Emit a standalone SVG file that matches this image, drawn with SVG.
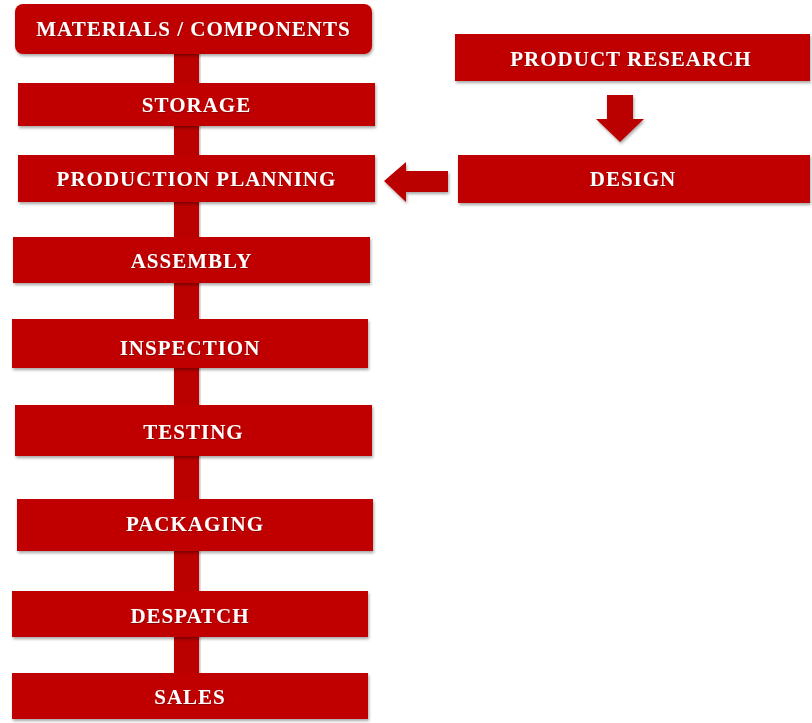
<svg xmlns="http://www.w3.org/2000/svg" width="812" height="723" viewBox="0 0 812 723">
<defs>
<filter id="sh" x="-5%" y="-20%" width="110%" height="150%">
<feDropShadow dx="1" dy="2" stdDeviation="1.5" flood-color="#000" flood-opacity="0.35"/>
</filter>
<filter id="tsh" x="-5%" y="-30%" width="110%" height="160%">
<feDropShadow dx="0.5" dy="0.8" stdDeviation="0.5" flood-color="#000" flood-opacity="0.35"/>
</filter>
</defs>
<style>
.box{fill:#c00000;filter:url(#sh)}
.lbl{fill:#ffffff;font-family:"Liberation Serif","Times New Roman",serif;font-weight:bold;font-size:21px;letter-spacing:1px;text-anchor:middle;filter:url(#tsh)}
.conn{fill:#bb0000;filter:url(#sh)}
</style>
<rect width="812" height="723" fill="#ffffff"/>
<g id="connectors">
<rect class="conn" x="174" y="50" width="25" height="625"/>
<polygon class="conn" points="607,95 633,95 633,119 644,119 620,142 596,119 607,119"/>
<polygon class="conn" points="448,171 448,192 406,192 406,202 384,181 406,162 406,171"/>
</g>
<g id="materials"><rect class="box" x="15" y="4" width="357" height="50" rx="8"/><text class="lbl" x="193.5" y="36">MATERIALS / COMPONENTS</text></g>
<g id="storage"><rect class="box" x="18" y="83" width="357" height="43"/><text class="lbl" x="196.5" y="112">STORAGE</text></g>
<g id="production-planning"><rect class="box" x="18" y="155" width="357" height="47"/><text class="lbl" x="196.5" y="186">PRODUCTION PLANNING</text></g>
<g id="assembly"><rect class="box" x="13" y="237" width="357" height="46"/><text class="lbl" x="191.5" y="268">ASSEMBLY</text></g>
<g id="inspection"><rect class="box" x="12" y="319" width="356" height="49"/><text class="lbl" x="190" y="355">INSPECTION</text></g>
<g id="testing"><rect class="box" x="15" y="405" width="357" height="51"/><text class="lbl" x="193.5" y="439">TESTING</text></g>
<g id="packaging"><rect class="box" x="17" y="499" width="356" height="52"/><text class="lbl" x="195" y="531">PACKAGING</text></g>
<g id="despatch"><rect class="box" x="12" y="591" width="356" height="46"/><text class="lbl" x="190" y="623">DESPATCH</text></g>
<g id="sales"><rect class="box" x="12" y="673" width="356" height="46"/><text class="lbl" x="190" y="704">SALES</text></g>
<g id="product-research"><rect class="box" x="455" y="34" width="355" height="47"/><text class="lbl" x="631" y="66">PRODUCT RESEARCH</text></g>
<g id="design"><rect class="box" x="458" y="155" width="352" height="48"/><text class="lbl" x="633" y="186">DESIGN</text></g>
</svg>
